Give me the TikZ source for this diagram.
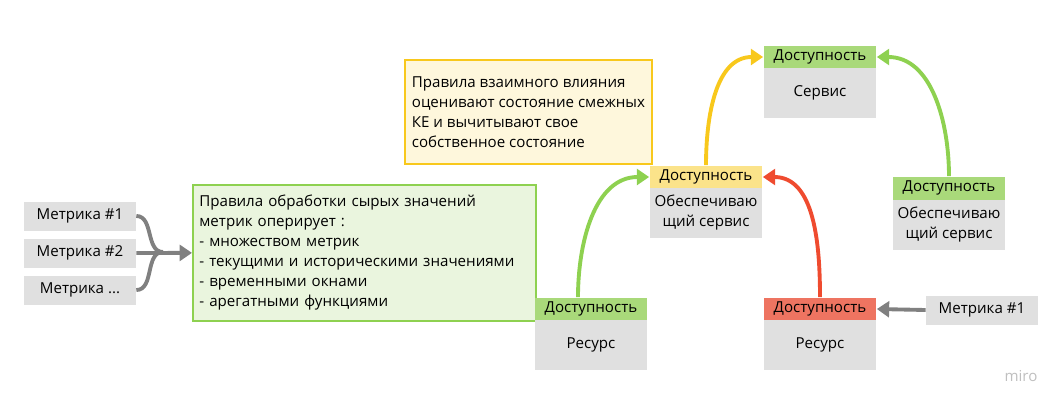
\documentclass[tikz,border=0pt]{standalone}
\usepackage{fontspec}
\setmainfont{Open Sans}
\usetikzlibrary{arrows.meta}
\definecolor{boxgray}{HTML}{E0E0E0}
\definecolor{hgreen}{HTML}{A9D97A}
\definecolor{hyellow}{HTML}{FBE38A}
\definecolor{hred}{HTML}{EE7461}
\definecolor{agreen}{HTML}{8ED150}
\definecolor{ayellow}{HTML}{F8C81C}
\definecolor{ared}{HTML}{EF4B2F}
\definecolor{agray}{HTML}{808080}
\begin{document}
\begin{tikzpicture}[x=0.02cm, y=-0.02cm, font=\fontsize{8.6}{11.4}\selectfont,
    metric/.style = {fill=boxgray, minimum width=2.24cm, minimum height=0.58cm, inner sep=0pt},
    hdr/.style = {minimum width=2.26cm, minimum height=0.46cm, inner sep=0pt},
    body/.style = {fill=boxgray, minimum width=2.26cm, minimum height=1cm, inner sep=0pt, align=center},
    conn/.style = {line width=2.2pt, -{Triangle[length=7pt,width=9pt]}}]

	\useasboundingbox (0,0) rectangle (1063,407);

	% metrics on the left
	\node[metric] (m1) at (80,216) {Метрика \#1};
	\node[metric] (m2) at (80,253) {Метрика \#2};
	\node[metric] (m3) at (80,290) {Метрика ...};

	\node[draw=agreen, line width=1pt, fill=hgreen!25, minimum width=6.86cm, minimum height=2.72cm,
	      text width=6.6cm, align=left, anchor=north west] (rules) at (192,184)
	      {Правила обработки сырых значений\\ метрик оперирует :\\ - множеством метрик\\
	       - текущими и историческими значениями\\ - временными окнами\\ - арегатными функциями};
	\node[draw=ayellow, line width=1pt, fill=hyellow!30, minimum width=4.86cm, minimum height=2.08cm,
	      inner xsep=4pt, align=left, anchor=north west] (note) at (404,59)
	      {Правила взаимного влияния\\ оценивают состояние смежных\\ КЕ и вычитывают свое\\ собственное состояние};

	% resources
	\node[hdr, fill=hgreen] (r1h) at (591,309) {Доступность};
	\node[body] (r1b) at (591,345) {Ресурс};
	\node[hdr, fill=hred] (r2h) at (820,309) {Доступность};
	\node[body] (r2b) at (820,345) {Ресурс};

	% services
	\node[hdr, fill=hyellow] (s1h) at (706,177) {Доступность};
	\node[body] (s1b) at (706,213) {Обеспечиваю\\щий сервис};
	\node[hdr, fill=hgreen] (s2h) at (820,57) {Доступность};
	\node[body] (s2b) at (820,93) {Сервис};
	\node[hdr, fill=hgreen] (s3h) at (949,188) {Доступность};
	\node[body] (s3b) at (949,225) {Обеспечиваю\\щий сервис};

	\node[metric] (m4) at (982,310) {Метрика \#1};

	\node[text=black!25, font=\fontsize{8.6}{9}\selectfont] (miro) at (1021,376) {miro};

	% connectors
	\coordinate (join) at (163,252);
	\draw[agray, line width=2.2pt] (m1.east) to[out=0,in=180] (join);
	\draw[agray, line width=2.2pt] (m3.east) to[out=0,in=180] (join);
	\draw[conn, agray] (m2.east) -- (rules.west);
	\draw[conn, agreen] (r1h.north -| 578,0) to[out=90,in=180] (s1h.west);
	\draw[conn, ared] (r2h.north) to[out=90,in=0] (s1h.east);
	\draw[conn, ayellow] (s1h.north) to[out=90,in=180] (s2h.west);
	\draw[conn, agreen] (s3h.north) to[out=90,in=0] (s2h.east);
	\draw[conn, agray] (m4.west) -- (r2h.east);
\end{tikzpicture}
\end{document}
